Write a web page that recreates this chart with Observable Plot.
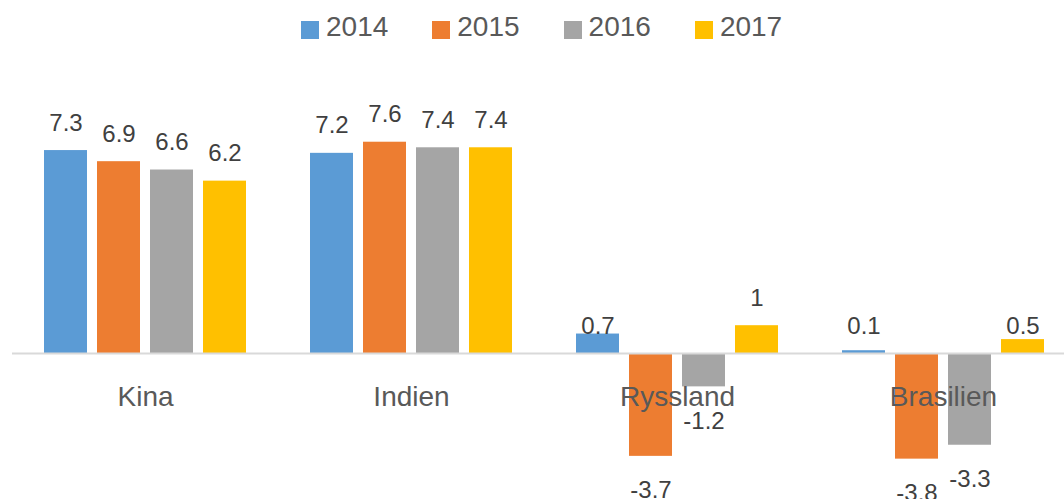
<!DOCTYPE html>
<html>
<head>
<meta charset="utf-8">
<script src="https://cdn.jsdelivr.net/npm/d3@7"></script>
<script src="https://cdn.jsdelivr.net/npm/@observablehq/plot@0.6"></script>
<style>
  html, body { margin: 0; padding: 0; background: #fff; }
  #wrap { position: relative; width: 1064px; height: 499px; overflow: hidden; font-family: "Liberation Sans", Arial, sans-serif; }
  #legend { position: absolute; left: 301px; top: 13px; display: flex; gap: 44px; z-index: 2; }
  .item { display: flex; align-items: flex-start; }
  .sw { width: 18px; height: 18px; margin-top: 8px; margin-right: 7px; }
  .lab { font-size: 28px; line-height: 28px; color: #595959; }
  #chart { position: absolute; left: 0; top: 0; }
</style>
</head>
<body>
<div id="wrap">
  <div id="legend"></div>
  <div id="chart"></div>
</div>
<script>
const categories = ["Kina", "Indien", "Ryssland", "Brasilien"];
const years = ["2014", "2015", "2016", "2017"];
const colors = ["#5B9BD5", "#ED7D31", "#A5A5A5", "#FFC000"];
const values2014 = [7.3, 7.2, 0.7, 0.1];
const values2015 = [6.9, 7.6, -3.7, -3.8];
const values2016 = [6.6, 7.4, -1.2, -3.3];
const values2017 = [6.2, 7.4, 1, 0.5];

const series = [values2014, values2015, values2016, values2017];
const data = [];
categories.forEach((c, i) => {
  years.forEach((y, j) => {
    data.push({country: c, year: y, value: series[j][i]});
  });
});

// legend
const legend = document.getElementById("legend");
years.forEach((y, j) => {
  const it = document.createElement("div");
  it.className = "item";
  const sw = document.createElement("div");
  sw.className = "sw";
  sw.style.background = colors[j];
  const lab = document.createElement("span");
  lab.className = "lab";
  lab.textContent = y;
  it.appendChild(sw);
  it.appendChild(lab);
  legend.appendChild(it);
});

const zeroY = 353, pxPerUnit = 27.8;
const chart = Plot.plot({
  width: 1064,
  height: 499,
  marginLeft: 10,
  marginRight: -13,
  marginTop: 0,
  marginBottom: 0,
  style: {fontFamily: "'Liberation Sans', Arial, sans-serif", background: "transparent", overflow: "visible"},
  fx: {domain: categories, padding: 0, axis: null},
  x: {domain: years, paddingInner: 0.193, paddingOuter: 0.597, axis: null},
  y: {domain: [-5, 8], range: [zeroY + 5 * pxPerUnit, zeroY - 8 * pxPerUnit], axis: null},
  color: {domain: years, range: colors},
  marks: [
    Plot.barY(data, {fx: "country", x: "year", y: "value", fill: "year", insetLeft: 0, insetRight: 0}),
    Plot.ruleY([0], {stroke: "#D9D9D9", strokeWidth: 2}),
    Plot.text(categories, {fx: d => d, y: 0, text: d => d, dy: 52, lineAnchor: "bottom", fontSize: 28, fill: "#595959"}),
    // small positive values: label sits just above the axis (as in the reference)
    Plot.text(data.filter(d => d.value >= 0), {fx: "country", x: "year", y: d => (d.value < 1 ? 0 : d.value), text: d => String(d.value), dy: -20, lineAnchor: "bottom", fontSize: 24, fill: "#404040"}),
    Plot.text(data.filter(d => d.value < 0), {fx: "country", x: "year", y: "value", text: d => String(d.value), dy: 42, lineAnchor: "bottom", fontSize: 24, fill: "#404040"})
  ]
});
document.getElementById("chart").appendChild(chart);
</script>
</body>
</html>
